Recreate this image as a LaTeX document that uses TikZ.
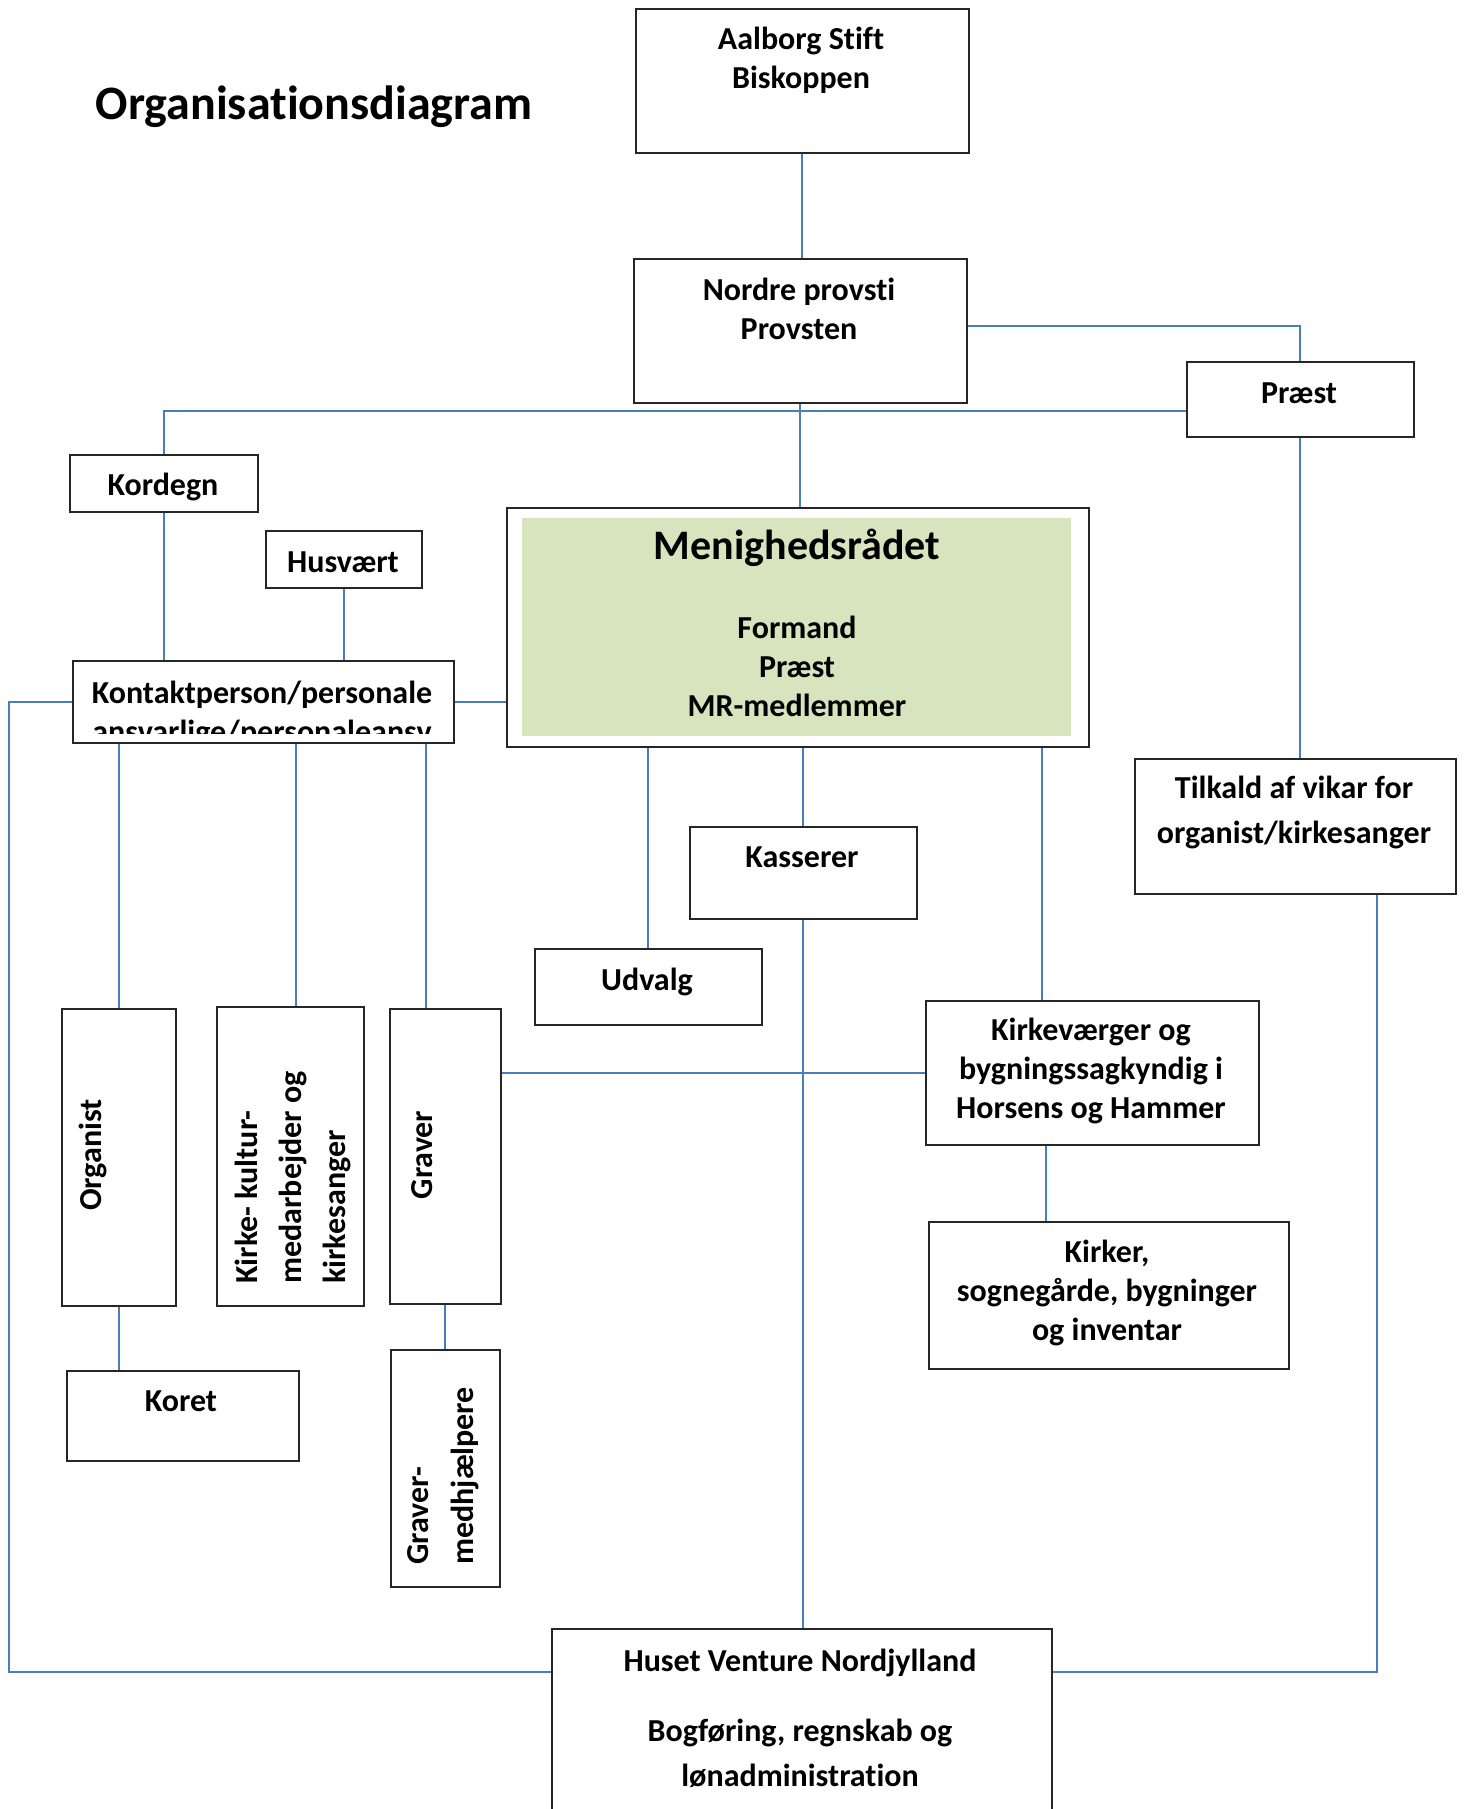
\documentclass[tikz,border=0pt]{standalone}
\usepackage{fontspec}
\setmainfont{Carlito}[Ligatures={NoCommon,NoContextual},Contextuals=NoAlternate]
\usetikzlibrary{positioning}
\definecolor{lineblue}{RGB}{74,126,187}
\definecolor{mrgreen}{RGB}{215,228,189}

\begin{document}
\begin{tikzpicture}[x=0.5pt,y=-0.5pt,
  every node/.style={font=\bfseries\fontsize{16}{19.5}\selectfont, inner sep=0pt},
  box/.style={draw=black!85, line width=0.8pt, fill=white, anchor=north west},
  txt/.style={align=center},
  vtxt/.style={rotate=90, align=left},
  conn/.style={draw=lineblue, line width=1pt}]
  \clip (0,0) rectangle (1467,1809);

  % title
  \node [font=\bfseries\fontsize{24}{29}\selectfont] (title) at (314,107) {Organisationsdiagram};

  % boxes
  \node [box, minimum width=166.5pt, minimum height=72pt] (aalborg) at (635,8) {};
  \node [box, minimum width=166.5pt, minimum height=72pt] (nordre) at (633,258) {};
  \node [box, minimum width=113.5pt, minimum height=37.5pt] (praest) at (1186,361) {};
  \node [box, minimum width=94pt, minimum height=28.5pt] (kordegn) at (69,454) {};
  \node [box, minimum width=78pt, minimum height=28.5pt] (husvaert) at (265,530) {};
  \node [box, minimum width=190.5pt, minimum height=41pt] (kontakt) at (72,660) {};
  \node [box, minimum width=291pt, minimum height=119.5pt] (menig) at (506,507) {};
  \node [fill=mrgreen, anchor=north west, minimum width=274.5pt, minimum height=109pt] (menigfill) at (522,518) {};
  \node [box, minimum width=113.5pt, minimum height=46pt] (kasserer) at (689,826) {};
  \node [box, minimum width=113.5pt, minimum height=38pt] (udvalg) at (534,948) {};
  \node [box, minimum width=160.5pt, minimum height=67.5pt] (tilkald) at (1134,758) {};
  \node [box, minimum width=166.5pt, minimum height=72pt] (kirkev) at (925,1000) {};
  \node [box, minimum width=180pt, minimum height=73.5pt] (kirker) at (928,1221) {};
  \node [box, minimum width=57pt, minimum height=148.5pt] (organist) at (61,1008) {};
  \node [box, minimum width=73.5pt, minimum height=149.5pt] (kirke) at (216,1006) {};
  \node [box, minimum width=55.5pt, minimum height=147.5pt] (graver) at (389,1008) {};
  \node [box, minimum width=116pt, minimum height=45pt] (koret) at (66,1370) {};
  \node [box, minimum width=54.5pt, minimum height=118.5pt] (gmedh) at (390,1349) {};
  \node [box, minimum width=250pt, minimum height=101pt] (huset) at (551,1628) {};

  % connectors
  \draw [conn] (aalborg.south) -- (aalborg.south |- nordre.north);
  \draw [conn] ([yshift=2.5pt]nordre.east) -| (praest.north);
  \draw [conn] ([yshift=-6pt]praest.west) -| (kordegn.north);
  \draw [conn] (nordre.south) -- (nordre.south |- menig.north);
  \draw [conn] (kordegn.south) -- (kordegn.south |- kontakt.north);
  \draw [conn] (husvaert.south) -- (husvaert.south |- kontakt.north);
  \draw [conn] (kontakt.east) -- (kontakt.east -| menig.west);
  \draw [conn] (kontakt.west) -- ++(-63,0) |- ([yshift=-22pt]huset.north west);
  \draw [conn] (praest.south) -- (praest.south |- tilkald.north);
  \draw [conn] ([xshift=41pt]tilkald.south) |- ([yshift=-22pt]huset.north east);
  \draw [conn] (organist.north |- kontakt.south) -- (organist.north);
  \draw [conn] ([xshift=3pt]kirke.north |- kontakt.south) -- ([xshift=3pt]kirke.north);
  \draw [conn] ([xshift=-9.5pt]graver.north |- kontakt.south) -- ([xshift=-9.5pt]graver.north);
  \draw [conn] (organist.south) -- (organist.south |- koret.north);
  \draw [conn] (graver.south) -- (graver.south |- gmedh.north);
  \draw [conn] (graver.east |- kirkev.west) -- (kirkev.west);
  \draw [conn] (udvalg.north |- menig.south) -- (udvalg.north);
  \draw [conn] (kasserer.north |- menig.south) -- (kasserer.north);
  \draw [conn] ([xshift=-25pt]kirkev.north |- menig.south) -- ([xshift=-25pt]kirkev.north);
  \draw [conn] (kasserer.south) -- (kasserer.south |- huset.north);
  \draw [conn] ([xshift=-23pt]kirkev.south) -- ([xshift=-23pt]kirkev.south |- kirker.north);

  % texts
  \node [txt] (aalborgT) at (801,60) {Aalborg Stift\\Biskoppen};
  \node [txt] (nordreT) at (799,309) {Nordre provsti\\Provsten};
  \node [txt] (praestT) at (1299,393) {Præst};
  \node [txt] (kordegnT) at (163,487) {Kordegn};
  \node [txt] (husvaertT) at (343,562) {Husvært};
  \begin{scope}
    \clip (kontakt.north west) rectangle ([yshift=5pt]kontakt.south east);
    \node [txt] (kontaktT) at (262,714) {Kontaktperson/personale\\ansvarlige/personaleansv};
  \end{scope}
  \node [txt, font=\bfseries\fontsize{21}{25}\selectfont] (menigT) at (797,548) {Menighedsrådet};
  \node [txt] (menigL) at (797,666) {Formand\\Præst\\MR-medlemmer};
  \node [txt] (kassererT) at (802,857) {Kasserer};
  \node [txt] (udvalgT) at (647,982) {Udvalg};
  \node [txt, font=\bfseries\fontsize{16}{22.5}\selectfont] (tilkaldT) at (1294,812) {Tilkald af vikar for\\organist/kirkesanger};
  \node [txt] (kirkevT) at (1091,1071) {Kirkeværger og\\bygningssagkyndig i\\Horsens og Hammer};
  \node [txt] (kirkerT) at (1107,1293) {Kirker,\\sognegårde, bygninger\\og inventar};
  \node [txt] (koretT) at (181,1401) {Koret};
  \node [txt, font=\bfseries\fontsize{16}{22.5}\selectfont] (husetT) at (800,1718) {Huset Venture Nordjylland\\[12.5pt]Bogføring, regnskab og\\lønadministration};
  \node [vtxt] (organistT) at (93,1155) {Organist};
  \node [vtxt] (graverT) at (422,1155) {Graver};
  \node [vtxt, anchor=west, font=\bfseries\fontsize{16}{22}\selectfont] (kirkeT) at (293,1284) {Kirke- kultur-\\medarbejder og\\kirkesanger};
  \node [vtxt, anchor=west, font=\bfseries\fontsize{16}{22.5}\selectfont] (gmedhT) at (443.5,1565) {Graver-\\medhjælpere};
\end{tikzpicture}
\end{document}
